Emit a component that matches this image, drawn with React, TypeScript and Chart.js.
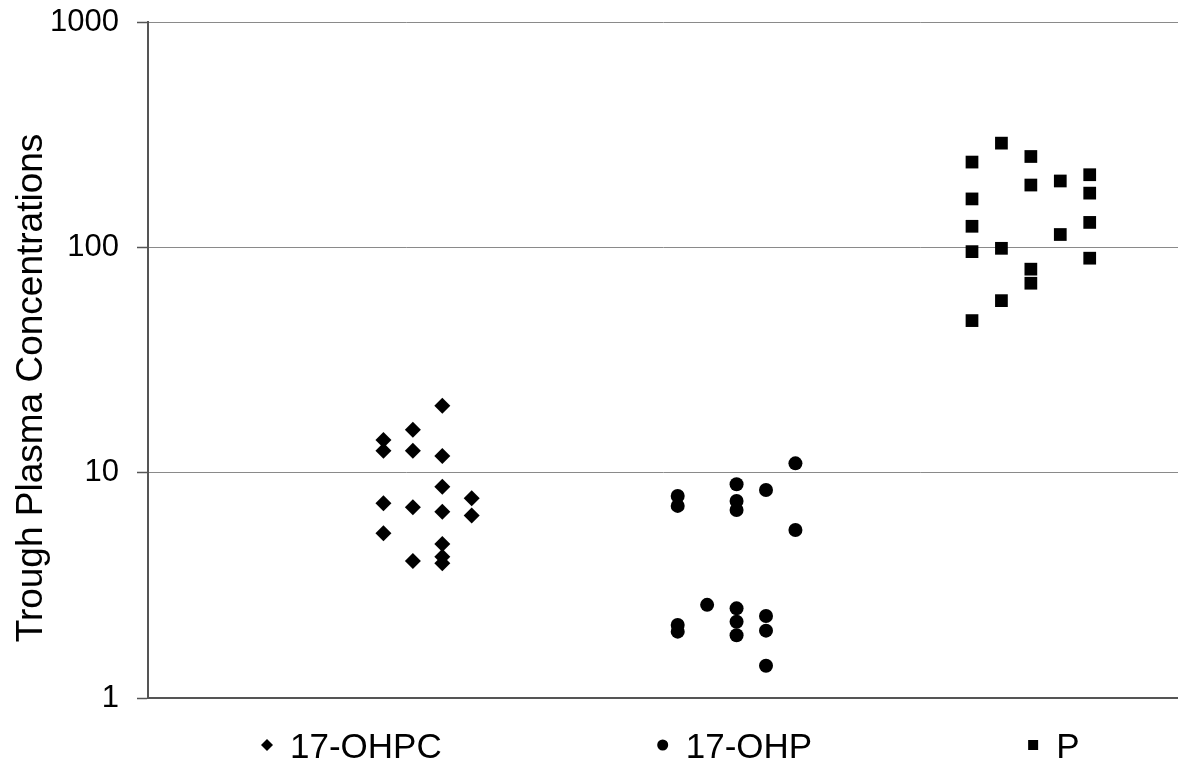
import { useEffect, useRef } from "react";
import { Chart, registerables } from "chart.js";

Chart.register(...registerables);

const seriesNames = ["17-OHPC", "17-OHP", "P"];

const ohpcX = [8, 8, 8, 8, 9, 9, 9, 9, 10, 10, 10, 10, 10, 10, 10, 11, 11];
const ohpcY = [13.97, 12.5, 7.32, 5.38, 15.5, 12.5, 7.02, 4.06, 19.8, 11.86, 8.67, 6.71, 4.83, 4.24, 3.96, 7.7, 6.45];

const ohpX = [18, 18, 18, 18, 19, 20, 20, 20, 20, 20, 20, 21, 21, 21, 21, 22, 22];
const ohpY = [7.88, 7.12, 2.11, 1.97, 2.59, 8.88, 7.49, 6.83, 2.5, 2.18, 1.9, 8.38, 2.31, 1.99, 1.39, 11.0, 5.57];

const pX = [28, 28, 28, 28, 28, 29, 29, 29, 30, 30, 30, 30, 31, 31, 32, 32, 32, 32];
const pY = [239, 164, 124, 95.7, 47.3, 290, 99, 58, 253, 189, 80, 69.3, 197, 114, 210, 174, 129, 89.5];

const yTicks = [1, 10, 100, 1000];
const yTitle = "Trough Plasma Concentrations";

const FONT = "'Liberation Sans', Arial, sans-serif";

const toPoints = (xs: number[], ys: number[]) => xs.map((x, i) => ({ x, y: ys[i] }));

const titlePlugin = {
  id: "yTitle",
  afterDraw(chart: any) {
    const ctx = chart.ctx as CanvasRenderingContext2D;
    ctx.save();
    ctx.font = `37px ${FONT}`;
    ctx.fillStyle = "#000";
    ctx.translate(42, chart.height / 2 + 5);
    ctx.rotate(-Math.PI / 2);
    ctx.textAlign = "center";
    ctx.textBaseline = "alphabetic";
    ctx.fillText(yTitle, 0, 0);
    ctx.restore();
  },
};

const legendPlugin = {
  id: "bottomLegend",
  afterDraw(chart: any) {
    const ctx = chart.ctx as CanvasRenderingContext2D;
    const fs = 35;
    const markerToText = 23;
    const gap = 221;
    const cy = 745;
    ctx.save();
    ctx.font = `${fs}px ${FONT}`;
    ctx.fillStyle = "#000";
    const area = chart.chartArea;
    let x = area.left + 119;
    chart.data.datasets.forEach((ds: any) => {
      const text = ds.label as string;
      const w = ctx.measureText(text).width;
      ctx.beginPath();
      if (ds.pointStyle === "rectRot") {
        const r = 6;
        ctx.moveTo(x, cy - r);
        ctx.lineTo(x + r, cy);
        ctx.lineTo(x, cy + r);
        ctx.lineTo(x - r, cy);
        ctx.closePath();
      } else if (ds.pointStyle === "circle") {
        ctx.arc(x, cy, 5.5, 0, Math.PI * 2);
      } else {
        ctx.rect(x - 5, cy - 5, 10, 10);
      }
      ctx.fill();
      ctx.textBaseline = "alphabetic";
      ctx.textAlign = "left";
      ctx.fillText(text, x + markerToText, cy + 0.358 * fs);
      x += markerToText + w + gap;
    });
    ctx.restore();
  },
};

export default function App() {
  const ref = useRef<HTMLCanvasElement>(null);

  useEffect(() => {
    if (!ref.current) return;
    const chart = new Chart(ref.current, {
      type: "scatter",
      data: {
        datasets: [
          {
            label: seriesNames[0],
            data: toPoints(ohpcX, ohpcY),
            pointStyle: "rectRot",
            pointRadius: 8,
            backgroundColor: "#000",
            borderColor: "#000",
            borderWidth: 0,
          },
          {
            label: seriesNames[1],
            data: toPoints(ohpX, ohpY),
            pointStyle: "circle",
            pointRadius: 7,
            backgroundColor: "#000",
            borderColor: "#000",
            borderWidth: 0,
          },
          {
            label: seriesNames[2],
            data: toPoints(pX, pY),
            pointStyle: "rect",
            pointRadius: 9,
            backgroundColor: "#000",
            borderColor: "#000",
            borderWidth: 0,
          },
        ],
      },
      options: {
        animation: false,
        responsive: false,
        layout: { autoPadding: false, padding: { top: 22, bottom: 68, left: 0, right: 0 } },
        plugins: {
          legend: { display: false },
          tooltip: { enabled: false },
        },
        scales: {
          x: {
            type: "linear",
            min: 0,
            max: 35,
            afterFit: (scale: any) => {
              scale.paddingLeft = 0;
              scale.paddingRight = 0;
              scale.height = 0;
            },
            ticks: { display: false },
            grid: { display: false, drawTicks: false },
            border: { display: true, color: "#555", width: 2 },
          },
          y: {
            type: "logarithmic",
            min: 1,
            max: 1000,
            afterBuildTicks: (scale: any) => {
              scale.ticks = yTicks.map((v) => ({ value: v }));
            },
            afterFit: (scale: any) => {
              scale.width = 148;
              scale.paddingTop = 0;
              scale.paddingBottom = 0;
            },
            ticks: {
              color: "#000",
              font: { family: FONT, size: 31 },
              padding: 18,
              callback: (v: any) => String(v),
            },
            grid: {
              color: "#8a8a8a",
              lineWidth: 1,
              tickColor: "#555",
              tickLength: 11,
              tickWidth: 1.5,
            },
            border: { display: true, color: "#555", width: 2 },
          },
        },
      },
      plugins: [titlePlugin, legendPlugin],
    });
    return () => chart.destroy();
  }, []);

  return (
    <div style={{ position: "absolute", left: 0, top: 0, width: 1178, height: 766, background: "#fff" }}>
      <canvas ref={ref} width={1178} height={766} style={{ display: "block" }} />
    </div>
  );
}
